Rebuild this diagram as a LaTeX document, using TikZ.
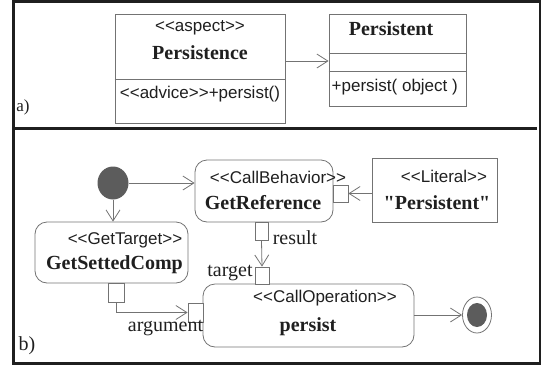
\documentclass[tikz,border=0pt]{standalone}
\usepackage{fontspec}
\setmainfont{Liberation Serif}[Ligatures=TeXOff]
\newfontfamily\umlsans{Liberation Sans}[Ligatures=TeXOff]
\usepackage{tikz}
\usetikzlibrary{positioning, shapes.geometric, arrows.meta}

\definecolor{linegray}{gray}{0.45}
\definecolor{inkgray}{gray}{0.12}
\definecolor{dotgray}{gray}{0.36}

\tikzset{
    outerframe/.style={draw=inkgray, line width=2.8pt},
    umlbox/.style={draw=linegray, line width=0.8pt, inner sep=0pt},
    actbox/.style={umlbox, rounded corners=12pt},
    pinbox/.style={umlbox, fill=white},
    umlline/.style={linegray, line width=0.8pt},
    flow/.style={umlline, -{Straight Barb[length=11pt,width=14pt]}},
    stereo/.style={font=\umlsans\fontsize{17}{19}\selectfont, text=inkgray, inner sep=0pt},
    bname/.style={font=\fontsize{20}{22}\selectfont\bfseries, text=inkgray, inner sep=0pt},
    lbl/.style={font=\fontsize{20}{22}\selectfont, text=inkgray, inner sep=0pt}
}

\begin{document}
\begin{tikzpicture}[x=1pt, y=-1pt]
    \useasboundingbox (0,0) rectangle (544,365);
    % Rahmen und Trennlinie
    \draw[outerframe] (13.5,1.5) rectangle (540,363.5);
    \draw[outerframe] (13.5,128.7) -- (537,128.7);
    \node[lbl, font=\fontsize{17}{19}\selectfont] (alabel) at (23,107) {a)};
    \node[lbl] (blabel) at (27,346) {b)};

    % a) Klassendiagramm
    \node[umlbox, minimum width=170pt, minimum height=109pt] (persistence) at (200,68.5) {};
    \draw[umlline] (persistence.west |- 0,79) -- (persistence.east |- 0,79);
    \node[stereo] (aspecttag) at (200,28) {<<aspect>>};
    \node[bname] (aspectname) at (200,53) {Persistence};
    \node[stereo] (advice) at (200,94) {<<advice>>+persist()};

    \node[umlbox, minimum width=137pt, minimum height=92pt] (persistent) at (397.5,60) {};
    \draw[umlline] (persistent.west |- 0,53) -- (persistent.east |- 0,53);
    \draw[umlline] (persistent.west |- 0,71) -- (persistent.east |- 0,71);
    \node[bname] (classname) at (391,29) {Persistent};
    \node[stereo, anchor=west] (operation) at (331.5,87) {+persist( object )};

    \draw[flow] (persistence.east |- 0,61) -- (persistent.west |- 0,61);

    % b) Aktivitaetsdiagramm
    \node[ellipse, fill=dotgray, minimum width=31pt, minimum height=33pt, inner sep=0pt] (init) at (113,183) {};

    \node[actbox, minimum width=138pt, minimum height=62pt] (getref) at (264,191) {};
    \node[stereo] (callbeh) at (278,177) {<<CallBehavior>>};
    \node[bname] (getrefname) at (263,203) {GetReference};

    \node[umlbox, minimum width=125pt, minimum height=64pt] (literal) at (434.5,190) {};
    \node[stereo] (literaltag) at (444,176) {<<Literal>>};
    \node[bname] (literalval) at (437,203) {"Persistent"};

    \node[actbox, minimum width=153pt, minimum height=61pt] (getsetted) at (111.5,252.5) {};
    \node[stereo] (gettarget) at (125,240) {<<GetTarget>>};
    \node[bname] (gettargetname) at (114.5,265) {GetSettedComp};

    \node[actbox, minimum width=211pt, minimum height=63pt] (persist) at (308.5,315.5) {};
    \node[stereo] (callop) at (325,298) {<<CallOperation>>};
    \node[bname] (persistname) at (308,327) {persist};

    \node[ellipse, draw=linegray, line width=0.8pt, minimum width=29pt, minimum height=36pt, inner sep=0pt] (final) at (477,315) {};
    \node[ellipse, fill=dotgray, minimum width=20pt, minimum height=24pt, inner sep=0pt] (finaldot) at (final.center) {};

    % Pins
    \node[pinbox, minimum width=15pt, minimum height=17pt] (refpin) at (340.5,193.5) {};
    \node[pinbox, minimum width=13pt, minimum height=18pt] (resultpin) at (261.5,231) {};
    \node[pinbox, minimum width=14pt, minimum height=17pt] (targetpin) at (262,275.5) {};
    \node[pinbox, minimum width=16pt, minimum height=19pt] (settedpin) at (116,292.5) {};
    \node[pinbox, minimum width=15pt, minimum height=19pt] (argpin) at (195.5,312.5) {};

    \node[lbl] (resultlbl) at (295,238) {result};
    \node[lbl] (targetlbl) at (230,273) {target};
    \node[lbl] (arglbl) at (165.5,328) {argument};

    % Kanten
    \draw[flow] (init.east) -- (getref.west |- init);
    \draw[flow] (init.south) -- (init |- getsetted.north);
    \draw[flow] (literal.west |- refpin) -- (refpin.east);
    \draw[flow] (resultpin.south) -- (targetpin.north);
    \draw[flow] (settedpin.south) |- (argpin.west);
    \draw[flow] (persist.east |- final) -- (final.west);
\end{tikzpicture}
\end{document}
